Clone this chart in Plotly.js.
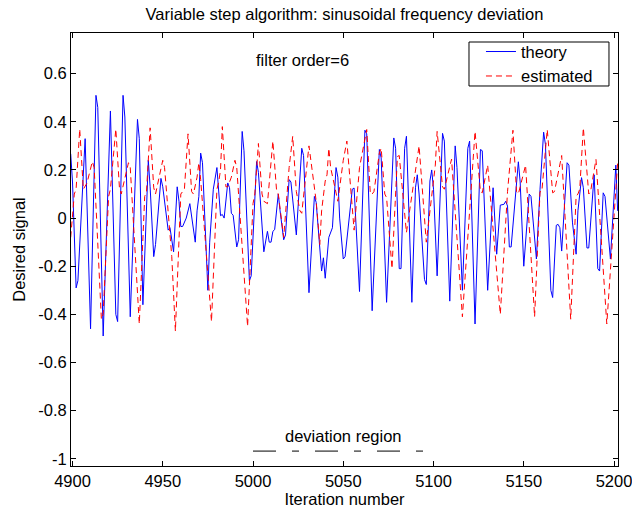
<!DOCTYPE html>
<html>
<head>
<meta charset="utf-8">
<script src="https://cdn.plot.ly/plotly-3.0.1.min.js"></script>
<style>html,body{margin:0;padding:0;background:#fff;}#chart{width:632px;height:515px;}</style>
</head>
<body>
<div id="chart"></div>
<script>
// theory (blue) - vertices of the polyline
const theoryN = [4899,4900,4902,4903,4907,4910,4913,4914,4917,4921,4924,4925,4928,4929,4932,4936,4937,4939,4942,4943,4945,4946,4949,4950,4953,4954,4956,4958,4959,4960,4961,4963,4965,4966,4968,4969,4970,4971,4972,4975,4976,4978,4979,4980,4982,4983,4984,4986,4987,4988,4989,4991,4992,4994,4995,4998,4999,5002,5003,5006,5008,5009,5010,5011,5012,5014,5015,5017,5018,5020,5021,5024,5025,5027,5028,5031,5034,5035,5036,5038,5039,5040,5042,5044,5046,5047,5048,5050,5051,5053,5055,5056,5059,5062,5063,5066,5070,5071,5074,5078,5079,5081,5082,5084,5085,5088,5090,5091,5092,5095,5096,5098,5099,5100,5102,5105,5106,5109,5112,5113,5116,5119,5120,5123,5126,5127,5130,5133,5135,5137,5139,5140,5141,5142,5143,5147,5148,5150,5153,5154,5157,5159,5161,5162,5165,5166,5168,5169,5170,5171,5174,5175,5177,5179,5180,5182,5183,5185,5186,5189,5190,5191,5192,5194,5195,5198,5201,5202];
const theoryV = [0.267,0.15,-0.29,-0.26,0.33,-0.46,0.51,0.46,-0.49,0.445,-0.40,-0.43,0.51,0.42,-0.41,0.41,0.33,-0.36,0.24,0.13,-0.16,-0.11,0.165,0.13,-0.05,-0.04,-0.14,0.13,0.07,-0.035,-0.035,0.0,0.06,0.0,-0.10,0.03,0.09,0.27,0.23,-0.30,-0.10,0.12,0.16,0.21,0.01,0.015,0.0,0.146,0.126,0.02,0.012,-0.12,-0.09,0.36,0.28,-0.26,-0.24,0.235,0.19,-0.14,-0.055,-0.10,-0.10,-0.055,-0.048,0.10,0.03,-0.09,-0.07,0.16,0.15,-0.07,0.05,0.29,0.26,-0.31,0.09,0.065,-0.03,-0.22,-0.165,-0.25,-0.08,-0.04,0.21,0.17,0.0,-0.17,-0.16,-0.02,0.12,0.125,-0.305,0.365,0.35,-0.385,0.285,0.25,-0.35,0.333,0.29,-0.21,-0.21,0.29,0.34,-0.35,0.126,0.18,0.10,-0.255,-0.276,0.154,0.20,0.12,-0.24,0.352,0.32,-0.345,0.30,0.21,-0.30,0.29,0.32,-0.44,0.285,0.28,-0.30,0.126,-0.15,0.054,0.057,0.07,0.05,-0.12,-0.12,0.234,0.15,-0.20,0.10,0.09,-0.17,0.12,0.357,0.306,-0.30,-0.33,-0.03,-0.026,-0.04,-0.137,0.23,0.22,-0.02,-0.15,0.03,0.168,0.126,-0.124,-0.124,0.18,0.0,-0.21,-0.22,0.105,0.09,-0.17,0.22,0.03];

// estimated (red dashed) - vertices of the polyline
const estN = [4899,4901,4902,4904,4906,4908,4911,4912,4916,4917,4920,4921,4924,4926,4927,4931,4932,4933,4937,4940,4941,4943,4945,4946,4950,4951,4955,4957,4960,4961,4962,4964,4966,4967,4969,4970,4971,4977,4980,4981,4982,4983,4985,4986,4988,4990,4991,4997,5000,5001,5003,5005,5006,5008,5011,5013,5014,5017,5020,5022,5024,5026,5027,5031,5033,5035,5037,5038,5040,5041,5042,5043,5047,5050,5052,5056,5059,5061,5063,5065,5066,5067,5070,5071,5073,5074,5077,5080,5081,5085,5091,5092,5096,5099,5101,5102,5105,5106,5110,5116,5123,5126,5127,5130,5137,5141,5144,5146,5147,5151,5156,5159,5160,5163,5166,5167,5170,5171,5176,5179,5180,5181,5183,5186,5187,5190,5196,5201,5202];
const estV = [-0.08,0.10,0.12,0.37,0.12,0.145,0.235,0.21,-0.42,-0.40,0.09,0.12,0.37,0.126,0.10,0.23,0.21,0.08,-0.44,0.09,0.11,0.375,0.126,0.10,0.24,0.21,-0.16,-0.47,0.10,0.11,0.12,0.35,0.11,0.10,0.17,0.23,0.16,-0.43,0.12,0.15,0.20,0.38,0.13,0.13,0.17,0.24,0.21,-0.45,0.06,0.10,0.31,0.10,0.07,0.06,0.32,0.12,0.10,-0.08,0.21,0.34,0.11,0.03,0.02,0.30,0.18,0.07,-0.11,0.03,0.154,0.18,0.29,0.21,0.07,0.24,0.32,-0.05,0.21,0.29,0.368,0.10,0.10,0.11,0.27,0.29,0.10,0.085,-0.21,0.256,0.26,-0.06,0.24,0.30,-0.10,0.10,0.22,0.36,0.13,0.12,0.245,-0.41,0.36,0.11,0.105,0.22,-0.40,0.11,0.365,0.11,0.10,0.22,-0.41,0.11,0.11,0.368,0.105,0.11,0.22,0.26,-0.42,0.09,0.10,0.12,0.375,0.10,0.11,0.244,-0.44,0.10,0.23];

// deviation region marker
const regionN = [5000, 5101];
const regionV = [-0.968, -0.968];

const xTickVals = [4900, 4950, 5000, 5050, 5100, 5150, 5200];
const xTickText = ['4900','4950','5000','5050','5100','5150','5200'];
const yTickVals = [-1, -0.8, -0.6, -0.4, -0.2, 0, 0.2, 0.4, 0.6];
const yTickText = ['-1','-0.8','-0.6','-0.4','-0.2','0','0.2','0.4','0.6'];

const FONT = 'Liberation Sans, Arial, Helvetica, sans-serif';
const FS = 16.5;

const traces = [
  {x: theoryN, y: theoryV, type: 'scatter', mode: 'lines', name: 'theory',
   line: {color: '#0000ff', width: 1}},
  {x: estN, y: estV, type: 'scatter', mode: 'lines', name: 'estimated',
   line: {color: '#ff0000', width: 1, dash: '6px,4px'}},
  {x: regionN, y: regionV, type: 'scatter', mode: 'lines', showlegend: false, hoverinfo: 'skip',
   line: {color: '#000000', width: 1, dash: '23px,16px,7px,16px'}}
];

const layout = {
  width: 632, height: 515,
  margin: {l: 71, r: 14, t: 33, b: 49},
  paper_bgcolor: '#ffffff', plot_bgcolor: '#ffffff',
  font: {family: FONT, size: FS, color: '#000'},
  title: {text: 'Variable step algorithm: sinusoidal frequency deviation',
          x: 0.545, xanchor: 'center', y: 0.973, yanchor: 'middle',
          font: {family: FONT, size: FS, color: '#000'}},
  xaxis: {range: [4899.17, 5202.2], tickvals: xTickVals, ticktext: xTickText,
          showgrid: false, zeroline: false, showline: true, linecolor: '#000', linewidth: 1,
          mirror: 'ticks', ticks: 'inside', ticklen: 5, tickcolor: '#000',
          ticklabeloverflow: 'allow',
          tickfont: {family: FONT, size: FS, color: '#000'},
          title: {text: 'Iteration number', standoff: 4, font: {family: FONT, size: FS, color: '#000'}}},
  yaxis: {range: [-1.03, 0.769], tickvals: yTickVals, ticktext: yTickText,
          showgrid: false, zeroline: false, showline: true, linecolor: '#000', linewidth: 1,
          mirror: 'ticks', ticks: 'inside', ticklen: 5, tickcolor: '#000',
          ticklabeloverflow: 'allow',
          tickfont: {family: FONT, size: FS, color: '#000'},
          title: {text: 'Desired signal', standoff: 8, font: {family: FONT, size: FS, color: '#000'}}},
  legend: {x: 0.7495, y: 0.997, xanchor: 'left', yanchor: 'top',
           bgcolor: 'rgba(0,0,0,0)', borderwidth: 0,
           font: {family: FONT, size: FS, color: '#000'}},
  shapes: [
    {type: 'rect', xref: 'paper', yref: 'paper', x0: 0.7276, x1: 0.9835, y0: 0.8776, y1: 0.9792,
     line: {color: '#000', width: 1}, fillcolor: '#ffffff', layer: 'above'}
  ],
  annotations: [
    {x: 5027.5, y: 0.658, xref: 'x', yref: 'y', text: 'filter order=6', showarrow: false,
     font: {family: FONT, size: FS, color: '#000'}},
    {x: 5050, y: -0.905, xref: 'x', yref: 'y', text: 'deviation region', showarrow: false,
     font: {family: FONT, size: FS, color: '#000'}}
  ],
  showlegend: true
};

Plotly.newPlot('chart', traces, layout, {displayModeBar: false, staticPlot: true});
</script>
</body>
</html>
